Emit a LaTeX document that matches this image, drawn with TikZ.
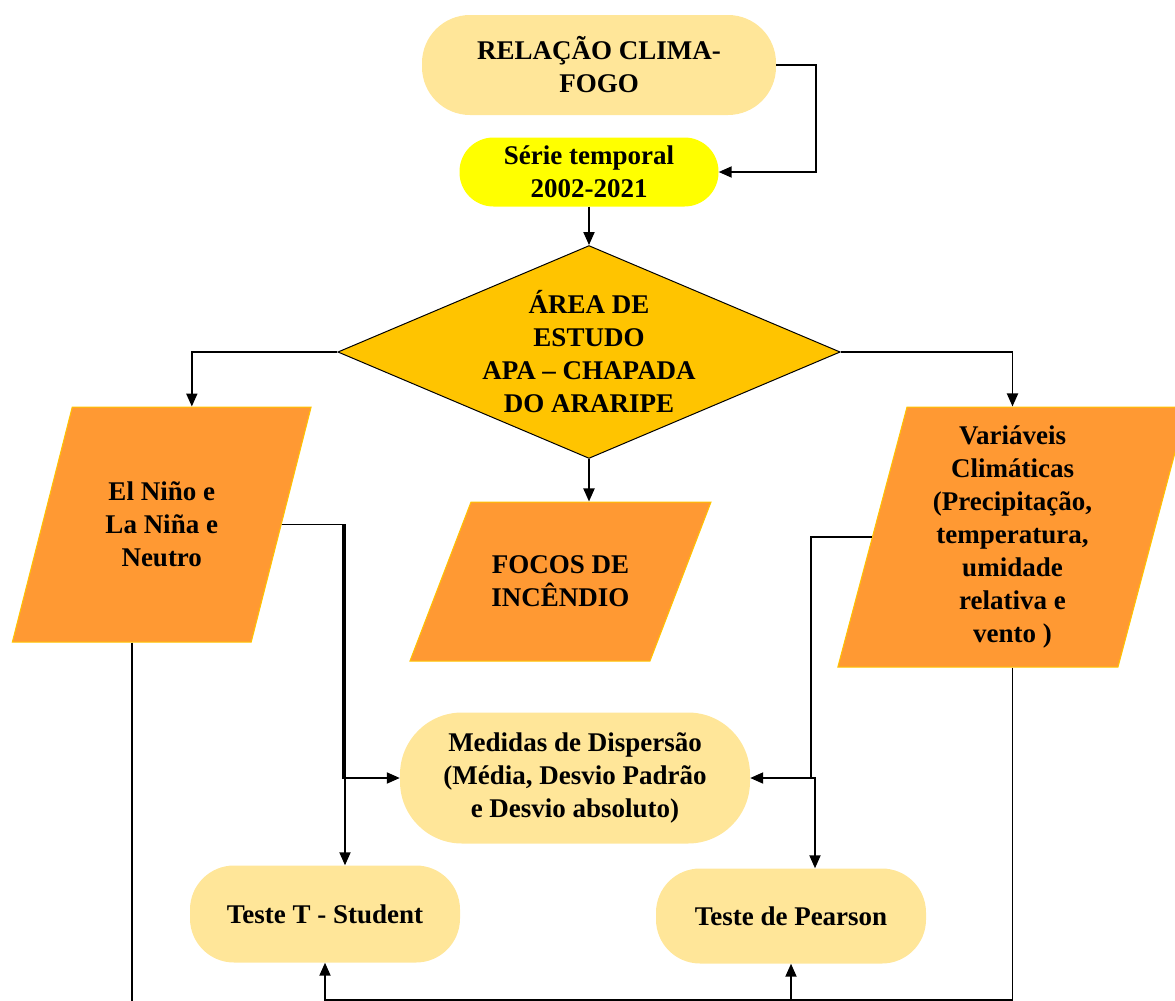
\documentclass[tikz,border=0pt]{standalone}
\usepackage{fontspec}
\setmainfont{Liberation Serif}
\usetikzlibrary{shapes.geometric,arrows.meta}
\definecolor{lightgold}{HTML}{FFE699}
\definecolor{gold}{HTML}{FFC400}
\definecolor{orangebox}{HTML}{FF9933}
\definecolor{brightyellow}{HTML}{FFFF00}
% text block of fixed height and width for the slanted boxes
\newcommand{\slantbox}[3]{\parbox[c][#1][c]{#2}{\centering #3}}
\tikzset{
  txt/.style={font=\fontsize{27}{33}\selectfont\bfseries, align=center, inner sep=0pt},
  pill/.style={txt, rectangle, fill=lightgold},
  datain/.style={txt, trapezium, fill=orangebox, draw=gold, line width=1pt},
  arr/.style={line width=1.9pt, -{Triangle[length=13pt,width=11pt]}},
  wire/.style={line width=1.9pt},
}
\begin{document}
\begin{tikzpicture}[x=1pt,y=-1pt]
  \useasboundingbox (0,0) rectangle (1175,1001);
  % Start
  \node[pill, minimum width=354pt, minimum height=100pt, rounded corners=48pt] (rel) at (599,65) {RELAÇÃO CLIMA-\\FOGO};
  \node[pill, fill=brightyellow, minimum width=259pt, minimum height=69pt, rounded corners=34pt] (serie) at (589,172) {Série temporal\\2002-2021};
  % Study area
  \node[txt, diamond, aspect=2.36, fill=gold, draw=black, line width=1pt, minimum width=497pt, minimum height=211pt] (area) at (589,352) {ÁREA DE\\ESTUDO\\APA – CHAPADA\\DO ARARIPE};
  % Data
  \node[datain, trapezium left angle=75.7, trapezium right angle=104.3] (nino) at (161.75,524.5)
    {\slantbox{235pt}{179pt}{El Niño e\\La Niña e\\Neutro}};
  \node[datain, trapezium left angle=69, trapezium right angle=111] (focos) at (560.5,581.5)
    {\slantbox{159pt}{179pt}{FOCOS DE\\INCÊNDIO}};
  \node[datain, trapezium left angle=75.1, trapezium right angle=104.9] (clima) at (1012.5,537)
    {\slantbox{260pt}{211pt}{Variáveis\\Climáticas\\(Precipitação,\\temperatura,\\umidade\\relativa e\\vento )}};
  % Statistics
  \node[pill, minimum width=350pt, minimum height=131pt, rounded corners=62pt] (med) at (575,778) {Medidas de Dispersão\\(Média, Desvio Padrão\\e Desvio absoluto)};
  \node[pill, minimum width=270pt, minimum height=97pt, rounded corners=44pt] (tt) at (325,914) {Teste T - Student};
  \node[pill, minimum width=270pt, minimum height=95pt, rounded corners=44pt] (pear) at (791,916) {Teste de Pearson};
  % Junctions
  \coordinate (lj) at (343,778);
  \coordinate (rj) at (811,778);
  \coordinate (bus) at (0,1000);

  % Connectors
  \draw[arr] (rel.east) -- ++(40,0) |- (serie.east);
  \draw[arr] (serie.south) -- (area.north);
  \draw[arr] (area.west) -| (nino.top side);
  \draw[arr] (area.east) -| (clima.north);
  \draw[arr] (area.south) -- (area.south |- focos.north);
  \draw[arr] (nino.right side) -| (lj) -- (med.west);
  \draw[arr] (nino.right side) -| ([xshift=2pt]lj |- tt.north);
  \draw[arr] (clima.left side) -| (rj) -- (med.east);
  \draw[arr] (rj) -| ([xshift=24pt]pear.north);
  % Bottom lines
  \draw[wire] (nino.bottom side) -- ++(0,400);
  \draw[arr] (clima.south) |- (tt.south |- bus) -- (tt.south);
  \draw[arr] (pear.south |- bus) -- (pear.south);
\end{tikzpicture}
\end{document}
